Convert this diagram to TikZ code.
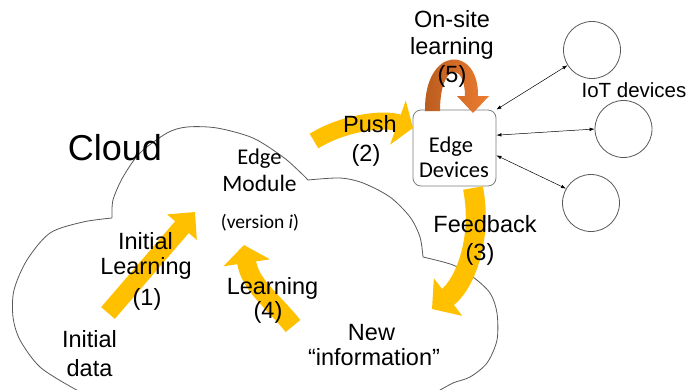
\documentclass[tikz,border=0pt]{standalone}
\usepackage{fontspec}
\setmainfont{Liberation Sans}
\newfontfamily\calibri{Carlito}
\usetikzlibrary{arrows.meta}
\definecolor{ylw}{HTML}{FFC000}
\definecolor{orgL}{HTML}{ED7D31}
\definecolor{orgD}{HTML}{BA5C1E}
\definecolor{edgec}{HTML}{595959}
\definecolor{boxc}{HTML}{7F7F7F}
\begin{document}
\begin{tikzpicture}[x=1pt,y=-1pt,
  txt/.style={inner sep=0pt, anchor=base, font=\fontsize{23.5}{28}\selectfont},
  cal/.style={inner sep=0pt, anchor=base, font=\calibri\fontsize{22.5}{27}\selectfont},
  iot/.style={circle, draw=edgec, line width=0.8pt, minimum size=57pt, inner sep=0pt},
  link/.style={{Latex[length=5pt,width=3.5pt]}-{Latex[length=5pt,width=3.5pt]}, line width=0.5pt},
  cloudline/.style={draw=edgec, line width=0.8pt},
]
\useasboundingbox (0,0) rectangle (688,389);
\fill[white] (0,0) rectangle (688,389);

% cloud outline
\begin{scope}
\clip (0,0) rectangle (688,389);
\path[cloudline]
  plot[smooth] coordinates {(92,397) (73,388) (40,367) (20,340) (13,317) (14,290) (27,260) (50,233) (83,222) (112,218)}
  plot[smooth] coordinates {(112,218) (113,200) (123,177) (140,153) (167,133) (187,127) (217,128) (253,138) (283,157) (300,172) (308,180)}
  plot[smooth] coordinates {(308,180) (340,178) (363,183) (390,197) (410,217) (420,237) (423,257)}
  plot[smooth] coordinates {(423,257) (453,265) (473,277) (490,293) (497,313) (497,340) (487,363) (470,377) (453,383) (435,393)};
\end{scope}

% edge devices box and IoT devices
\node[draw=boxc, rounded corners=8pt, minimum width=83pt, minimum height=76pt, fill=white, line width=0.8pt, inner sep=0pt] (box) at (454.5,148) {};
\node[iot] (iot1) at (592,50) {};
\node[iot] (iot2) at (623.5,129) {};
\node[iot] (iot3) at (591,203) {};
\draw[link] (box.north east) -- (iot1);
\draw[link] (box.17) -- (iot2.west);
\draw[link] (box.-10) -- (iot3.150);

% on-site learning arrow
\shade[left color=orgD, right color=orgL]
  (425,111) .. controls (424,45) and (479,45) .. (478,96) -- (489,96) -- (473,113) -- (457,96) -- (465,96)
  .. controls (465,62) and (440,62) .. (440,111) -- cycle;

% yellow arrows
\coordinate (a1s) at (108,313);
\coordinate (a1e) at (195,212);
\draw[ylw, line width=18pt, -{Triangle[length=20pt,width=38pt]}] (a1s) -- (a1e);
\coordinate (a2s) at (314,141);
\coordinate (a2e) at (413,128);
\draw[ylw, line width=17pt, -{Triangle[length=16pt,width=46pt]}] (a2s) .. controls (345,122) and (385,118) .. (a2e);
\coordinate (a3s) at (473,188);
\coordinate (a3e) at (432,309);
\draw[ylw, line width=20pt, -{Triangle[length=20pt,width=46pt]}] (a3s) .. controls (483,240) and (464,285) .. (a3e);
\coordinate (a4s) at (293,326);
\coordinate (a4e) at (244,245);
\draw[ylw, line width=19pt, -{Triangle[length=18pt,width=46pt]}] (a4s) .. controls (272,300) and (250,285) .. (a4e);

% texts
\node[txt, font=\fontsize{36}{42}\selectfont] (cloud) at (115,160) {Cloud};
\node[txt] (on1) at (452,27) {On-site};
\node[txt] (on2) at (452,54) {learning};
\node[txt] (on3) at (452,82) {(5)};
\node[txt, font=\fontsize{20.5}{24}\selectfont] (iotl) at (634,97) {IoT devices};
\node[txt] (push1) at (370,132) {Push};
\node[txt] (push2) at (366,161) {(2)};
\node[cal] (ed1) at (451,152.5) {Edge};
\node[cal] (ed2) at (454,177.5) {Devices};
\node[txt] (fb1) at (485,232) {Feedback};
\node[txt] (fb2) at (480,260) {(3)};
\node[cal] (em1) at (259.5,164.5) {Edge};
\node[cal, font=\calibri\fontsize{23.5}{27}\selectfont] (em2) at (259.5,191.5) {Module};
\node[cal, font=\calibri\fontsize{19.5}{23}\selectfont] (em3) at (260,228) {(version \textit{i})};
\node[txt] (il1) at (145.5,249.5) {Initial};
\node[txt] (il2) at (146,274.5) {Learning};
\node[txt] (il3) at (147,305) {(1)};
\node[txt] (l41) at (272.5,294) {Learning};
\node[txt] (l42) at (268,318) {(4)};
\node[txt] (id1) at (89.5,347) {Initial};
\node[txt] (id2) at (89.5,376) {data};
\node[txt] (ni1) at (371.5,340) {New};
\node[txt] (ni2) at (374,365) {``information''};
\end{tikzpicture}
\end{document}
